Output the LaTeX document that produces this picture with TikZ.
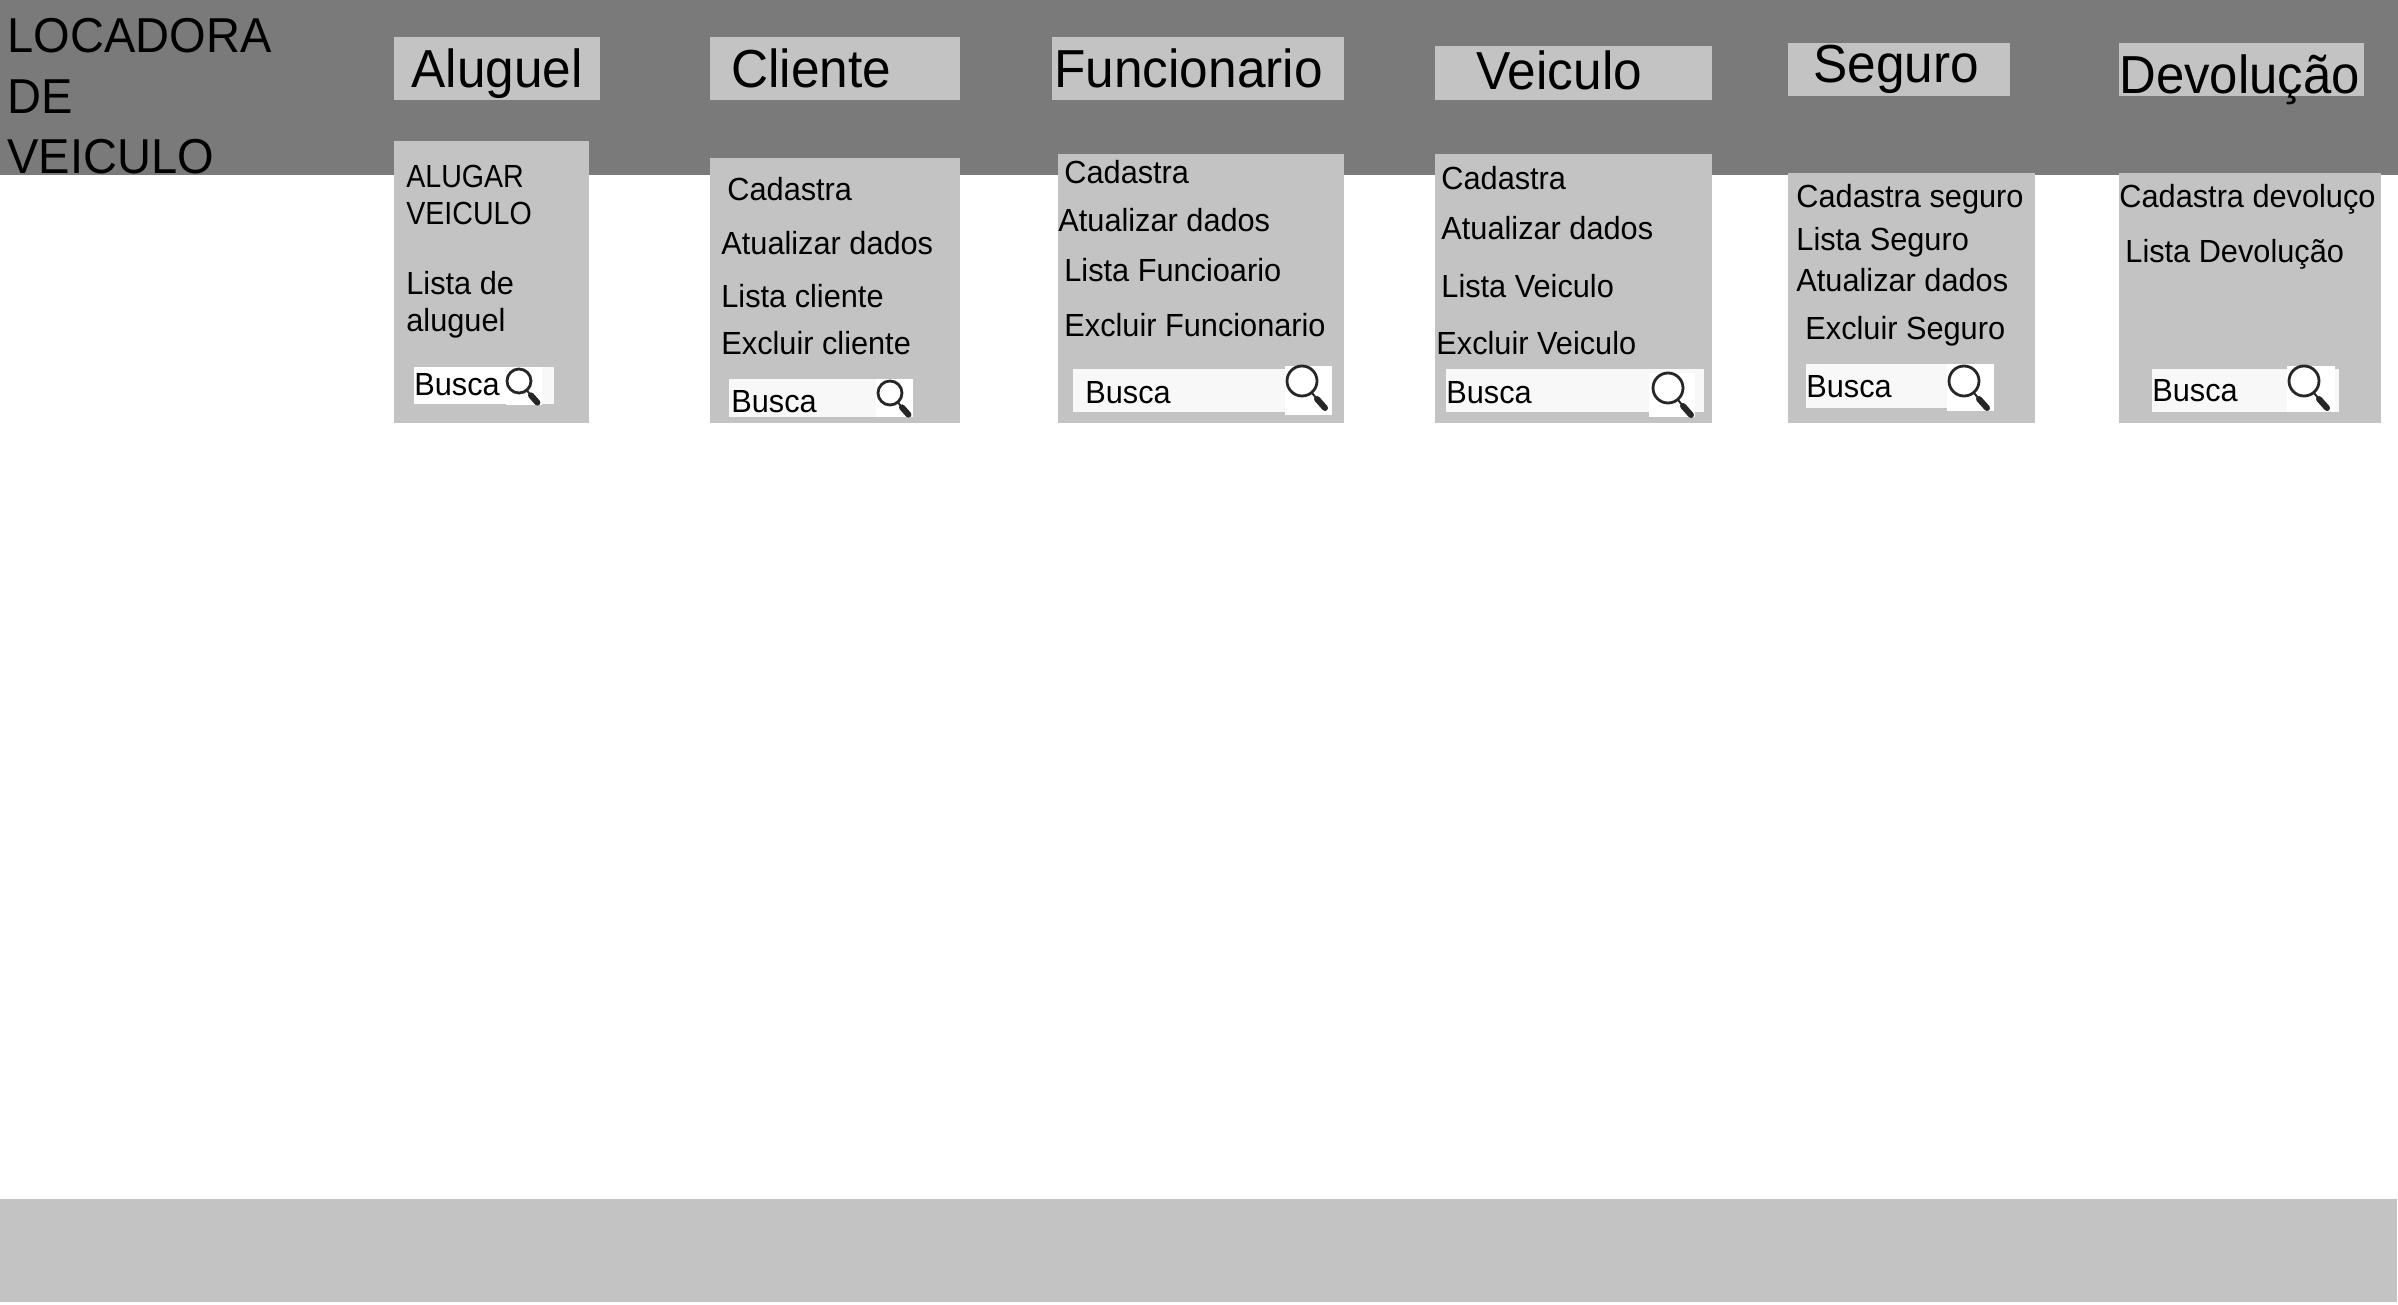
\documentclass[tikz,border=0pt]{standalone}
\usepackage{fontspec}
\setmainfont[FakeStretch=0.96]{Liberation Sans}
\definecolor{bandgray}{HTML}{7A7A7A}
\definecolor{boxgray}{HTML}{C3C3C3}
\definecolor{searchgray}{HTML}{F8F8F8}
\tikzset{
  titletext/.style={anchor=base west,inner sep=0pt,font=\fontsize{24.5}{24.5}\selectfont},
  headtext/.style={anchor=base west,inner sep=0pt,font=\fontsize{26.75}{26.75}\selectfont},
  menutext/.style={anchor=base west,inner sep=0pt,font=\fontsize{16}{16}\selectfont},
  lupa/.pic={
    \draw[line width=1.4pt,black!85] (0,0) circle (15);
    \draw[line width=1pt,black!85] (10,12) -- (15,18);
    \draw[line width=3pt,black!85,line cap=round] (15,18) -- (23,27);
  }
}
\begin{document}
\begin{tikzpicture}[x=0.5pt,y=-0.5pt]
  \useasboundingbox (0,0) rectangle (2398,1305);
  % Top band and footer
  \fill[bandgray] (0,0) rectangle (2398,175);
  \fill[boxgray] (0,1199) rectangle (2397,1302);
  \node[titletext] (locadora) at (7,53) {LOCADORA};
  \node[titletext] (de) at (7,114) {DE};
  \node[titletext] (veiculo) at (7,174) {VEICULO};
  % Aluguel
  \fill[boxgray] (394,37) rectangle (600,100);
  \fill[boxgray] (394,141) rectangle (589,423);
  \fill[searchgray] (414,367) rectangle (554,404);
  \fill[white] (414,367) rectangle (506,404);
  \fill[white] (506,367) rectangle (542,405);
  \node[headtext] (aluguel) at (411,88) {Aluguel};
  \node[menutext,xscale=0.93] (alugar) at (406,188) {ALUGAR};
  \node[menutext,xscale=0.93] (alugarb) at (406,225) {VEICULO};
  \node[menutext] (listaal) at (406,294) {Lista de};
  \node[menutext] (listaalb) at (406,331) {aluguel};
  \node[menutext] (buscaal) at (414,395) {Busca};
  \pic[scale=0.8] at (519,381) {lupa};
  % Cliente
  \fill[boxgray] (710,37) rectangle (960,100);
  \fill[boxgray] (710,158) rectangle (960,423);
  \fill[searchgray] (729,379) rectangle (913,417);
  \fill[white] (876,379) rectangle (913,417);
  \node[headtext] (cliente) at (731,88) {Cliente};
  \node[menutext] (cadcl) at (727,201) {Cadastra};
  \node[menutext] (atucl) at (721,255) {Atualizar dados};
  \node[menutext] (liscl) at (721,307) {Lista cliente};
  \node[menutext] (exccl) at (721,354) {Excluir cliente};
  \node[menutext] (buscacl) at (731,412) {Busca};
  \pic[scale=0.8] at (890,393) {lupa};
  % Funcionario
  \fill[boxgray] (1052,37) rectangle (1344,100);
  \fill[boxgray] (1058,154) rectangle (1344,423);
  \fill[searchgray] (1073,369) rectangle (1332,412);
  \fill[white] (1285,366) rectangle (1332,415);
  \node[headtext] (funcionario) at (1054,88) {Funcionario};
  \node[menutext] (cadfu) at (1064,184) {Cadastra};
  \node[menutext] (atufu) at (1058,232) {Atualizar dados};
  \node[menutext] (lisfu) at (1064,282) {Lista Funcioario};
  \node[menutext] (excfu) at (1064,336) {Excluir Funcionario};
  \node[menutext] (buscafu) at (1085,403) {Busca};
  \pic at (1302,381) {lupa};
  % Veiculo
  \fill[boxgray] (1435,46) rectangle (1712,100);
  \fill[boxgray] (1435,154) rectangle (1712,423);
  \fill[searchgray] (1446,369) rectangle (1704,412);
  \fill[white] (1649,373) rectangle (1695,417);
  \node[headtext] (veic) at (1476,90) {Veiculo};
  \node[menutext] (cadve) at (1441,190) {Cadastra};
  \node[menutext] (atuve) at (1441,240) {Atualizar dados};
  \node[menutext] (lisve) at (1441,298) {Lista Veiculo};
  \node[menutext] (excve) at (1436,354) {Excluir Veiculo};
  \node[menutext] (buscave) at (1446,403) {Busca};
  \pic at (1668,388) {lupa};
  % Seguro
  \fill[boxgray] (1788,43) rectangle (2010,96);
  \fill[boxgray] (1788,173) rectangle (2035,423);
  \fill[searchgray] (1806,364) rectangle (1994,408);
  \fill[white] (1947,364) rectangle (1994,411);
  \node[headtext] (seguro) at (1813,83) {Seguro};
  \node[menutext] (cadse) at (1796,208) {Cadastra seguro};
  \node[menutext] (lisse) at (1796,250) {Lista Seguro};
  \node[menutext] (atuse) at (1796,292) {Atualizar dados};
  \node[menutext] (excse) at (1805,339) {Excluir Seguro};
  \node[menutext] (buscase) at (1806,397) {Busca};
  \pic at (1964,381) {lupa};
  % Devolucao
  \fill[boxgray] (2119,43) rectangle (2364,96);
  \fill[boxgray] (2119,173) rectangle (2381,423);
  \fill[searchgray] (2152,369) rectangle (2339,412);
  \fill[white] (2287,366) rectangle (2335,412);
  \node[headtext,xscale=0.99] (devolucao) at (2119,94) {Devolução};
  \node[menutext] (caddv) at (2119,208) {Cadastra devoluço};
  \node[menutext] (lisdv) at (2125,263) {Lista Devolução};
  \node[menutext] (buscadv) at (2152,401) {Busca};
  \pic at (2304,381) {lupa};
\end{tikzpicture}
\end{document}
